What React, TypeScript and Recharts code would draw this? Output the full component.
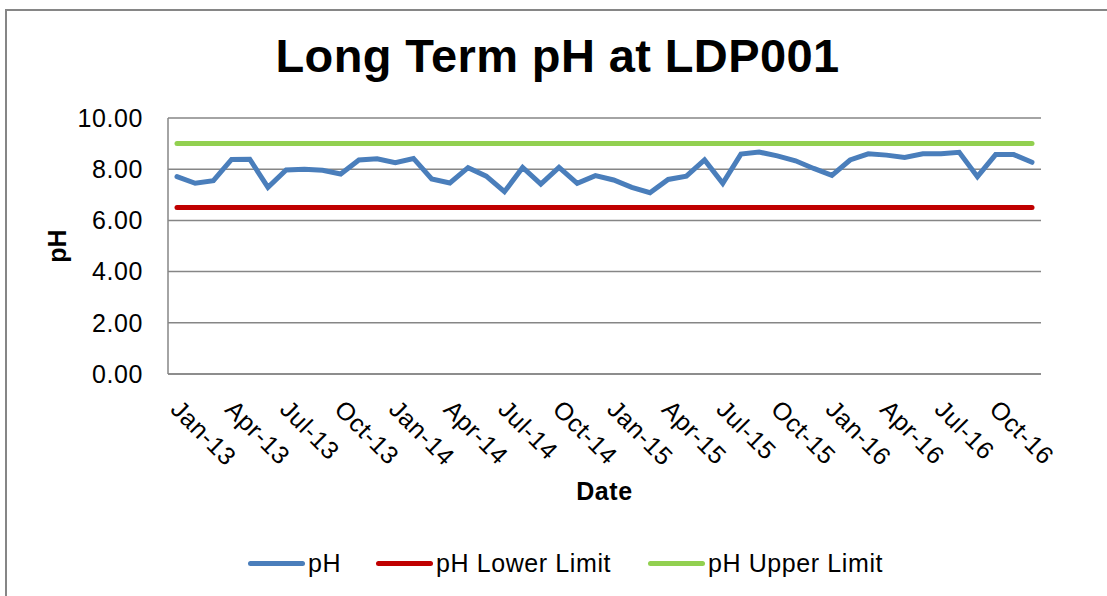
import { FC } from "react";
import {
  LineChart,
  Line,
  XAxis,
  YAxis,
  CartesianGrid,
  Label,
} from "recharts";

const months = [
  "Jan-13", "Feb-13", "Mar-13", "Apr-13", "May-13", "Jun-13", "Jul-13", "Aug-13", "Sep-13", "Oct-13", "Nov-13", "Dec-13",
  "Jan-14", "Feb-14", "Mar-14", "Apr-14", "May-14", "Jun-14", "Jul-14", "Aug-14", "Sep-14", "Oct-14", "Nov-14", "Dec-14",
  "Jan-15", "Feb-15", "Mar-15", "Apr-15", "May-15", "Jun-15", "Jul-15", "Aug-15", "Sep-15", "Oct-15", "Nov-15", "Dec-15",
  "Jan-16", "Feb-16", "Mar-16", "Apr-16", "May-16", "Jun-16", "Jul-16", "Aug-16", "Sep-16", "Oct-16", "Nov-16", "Dec-16",
];

const phValues = [
  7.71, 7.45, 7.55, 8.38, 8.39, 7.29, 7.97, 8.0, 7.96, 7.81, 8.36, 8.41,
  8.25, 8.42, 7.62, 7.46, 8.06, 7.73, 7.12, 8.07, 7.42, 8.07, 7.45, 7.75,
  7.58, 7.29, 7.08, 7.6, 7.73, 8.36, 7.45, 8.59, 8.67, 8.52, 8.33, 8.03,
  7.76, 8.36, 8.6, 8.55, 8.46, 8.6, 8.6, 8.66, 7.71, 8.57, 8.57, 8.27,
];

const lowerLimit = [
  6.5, 6.5, 6.5, 6.5, 6.5, 6.5, 6.5, 6.5, 6.5, 6.5, 6.5, 6.5,
  6.5, 6.5, 6.5, 6.5, 6.5, 6.5, 6.5, 6.5, 6.5, 6.5, 6.5, 6.5,
  6.5, 6.5, 6.5, 6.5, 6.5, 6.5, 6.5, 6.5, 6.5, 6.5, 6.5, 6.5,
  6.5, 6.5, 6.5, 6.5, 6.5, 6.5, 6.5, 6.5, 6.5, 6.5, 6.5, 6.5,
];

const upperLimit = [
  9, 9, 9, 9, 9, 9, 9, 9, 9, 9, 9, 9,
  9, 9, 9, 9, 9, 9, 9, 9, 9, 9, 9, 9,
  9, 9, 9, 9, 9, 9, 9, 9, 9, 9, 9, 9,
  9, 9, 9, 9, 9, 9, 9, 9, 9, 9, 9, 9,
];

const yTicks = [0, 2, 4, 6, 8, 10];

const data = months.map((m, i) => ({
  date: m,
  ph: phValues[i],
  lower: lowerLimit[i],
  upper: upperLimit[i],
}));

const FONT = '"Liberation Sans", Arial, sans-serif';
const GRID = "#868686";
const TXT = 25;

const series = [
  { key: "ph", name: "pH", color: "#4A7EBB" },
  { key: "lower", name: "pH Lower Limit", color: "#C00000" },
  { key: "upper", name: "pH Upper Limit", color: "#92D050" },
];

// excel style slanted labels, top-left corner sits under the tick
const DateTick = (props: any) => {
  const { x, y, payload } = props;
  return (
    <g transform={`translate(${x + 5},${y + 24}) rotate(45)`}>
      <text
        x={0}
        y={0}
        dy="0.72em"
        textAnchor="start"
        fontSize={TXT}
        letterSpacing={0.6}
        fontFamily={FONT}
        fill="#000"
      >
        {payload.value}
      </text>
    </g>
  );
};

const legendPos = [248, 376, 648];

const App: FC = () => {
  return (
    <div
      style={{
        position: "absolute",
        left: 0,
        top: 0,
        width: 1107,
        height: 596,
        overflow: "hidden",
        background: "#fff",
        fontFamily: FONT,
      }}
    >
      <div
        style={{
          position: "absolute",
          left: 5,
          top: 9,
          width: 1200,
          height: 700,
          borderLeft: `2px solid ${GRID}`,
          borderTop: `2px solid ${GRID}`,
        }}
      />
      <div
        style={{
          position: "absolute",
          left: 0,
          top: 28,
          width: 1115,
          textAlign: "center",
          fontSize: 47,
          letterSpacing: 0.4,
          fontWeight: "bold",
          color: "#000",
        }}
      >
        Long Term pH at LDP001
      </div>
      <div style={{ position: "absolute", left: 0, top: 0 }}>
        <LineChart
          width={1107}
          height={596}
          data={data}
          margin={{ top: 118, right: 66, bottom: 0, left: 0 }}
        >
          <CartesianGrid
            horizontal
            vertical={false}
            stroke={GRID}
            strokeWidth={1.5}
          />
          <XAxis
            dataKey="date"
            interval={2}
            height={222}
            padding={{ left: 9, right: 9 }}
            tick={<DateTick />}
            tickLine={false}
            tickSize={0}
            tickMargin={0}
            axisLine={{ stroke: GRID, strokeWidth: 1.5 }}
          >
            <Label
              value="Date"
              position="insideBottom"
              offset={96}
              style={{
                fontSize: TXT,
                fontWeight: "bold",
                letterSpacing: 0.6,
                fontFamily: FONT,
                fill: "#000",
              }}
            />
          </XAxis>
          <YAxis
            width={168}
            domain={[0, 10]}
            ticks={yTicks}
            tickFormatter={(v) => v.toFixed(2)}
            tick={{ fontSize: TXT, fill: "#000", fontFamily: FONT, letterSpacing: 0.6 }}
            tickLine={false}
            tickSize={0}
            tickMargin={25}
            axisLine={{ stroke: GRID, strokeWidth: 1.5 }}
          >
            <Label
              value="pH"
              angle={-90}
              position="center"
              dx={-27}
              style={{
                fontSize: TXT,
                fontWeight: "bold",
                fontFamily: FONT,
                fill: "#000",
              }}
            />
          </YAxis>
          {series.map((s) => (
            <Line
              key={s.key}
              dataKey={s.key}
              name={s.name}
              stroke={s.color}
              strokeWidth={5}
              strokeLinecap="round"
              dot={false}
              activeDot={false}
              isAnimationActive={false}
            />
          ))}
        </LineChart>
      </div>
      {series.map((s, i) => (
        <div
          key={s.key}
          style={{
            position: "absolute",
            left: legendPos[i],
            top: 549,
            display: "flex",
            alignItems: "center",
            fontSize: TXT,
            letterSpacing: 0.6,
            color: "#000",
            height: 28,
          }}
        >
          <span
            style={{
              display: "inline-block",
              width: 57,
              height: 5,
              borderRadius: 3,
              background: s.color,
              marginRight: 3,
            }}
          />
          {s.name}
        </div>
      ))}
    </div>
  );
};

export default App;
